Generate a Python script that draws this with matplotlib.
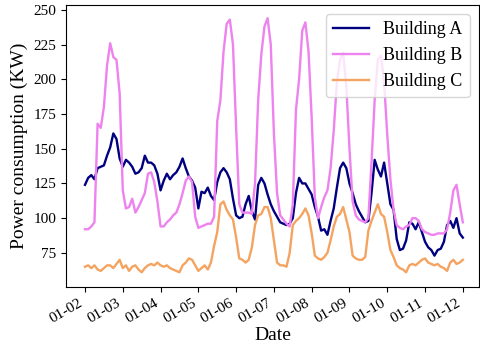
import matplotlib
matplotlib.use("Agg")
import matplotlib.pyplot as plt
import matplotlib.dates as mdates
import numpy as np
import pandas as pd

# 2-hourly readings, 01-02 00:00 .. 01-12 00:00
building_a = [
    124, 129, 131, 128, 136, 137, 138, 145, 151, 161, 157, 143,
    137, 142, 140, 137, 132, 133, 136, 145, 140, 140, 138, 132,
    120, 127, 132, 128, 131, 133, 137, 143, 136, 130, 127, 122,
    107, 119, 118, 122, 116, 113, 126, 133, 136, 133, 128, 114,
    102, 100, 101, 110, 116, 105, 99, 124, 129, 125, 117, 110,
    105, 101, 97, 96, 95, 96, 100, 118, 129, 125, 125, 121,
    117, 108, 101, 91, 92, 88, 98, 107, 122, 136, 140, 136,
    125, 118, 110, 105, 101, 97, 98, 118, 142, 135, 130, 140,
    125, 110, 106, 85, 77, 78, 84, 97, 96, 92, 97, 90,
    83, 79, 77, 73, 77, 78, 83, 95, 98, 93, 100, 89,
    86,
]
building_b = [
    92, 92, 94, 97, 168, 165, 180, 210, 226, 216, 214, 190,
    120, 107, 108, 114, 104, 108, 113, 118, 132, 133, 126, 112,
    94, 94, 97, 99, 102, 104, 110, 118, 127, 130, 126, 101,
    93, 94, 95, 96, 96, 101, 170, 185, 220, 240, 243, 225,
    165, 110, 104, 104, 104, 103, 125, 185, 218, 238, 244, 225,
    161, 118, 102, 99, 96, 94, 110, 178, 200, 235, 241, 220,
    172, 115, 100, 108, 115, 120, 136, 163, 198, 214, 219, 195,
    150, 112, 102, 99, 98, 97, 100, 140, 185, 214, 217, 198,
    160, 128, 106, 95, 93, 92, 94, 95, 100, 100, 98, 92,
    90, 89, 88, 88, 89, 89, 89, 92, 104, 120, 124, 110,
    97,
]
building_c = [
    65, 66, 64, 66, 63, 62, 64, 66, 66, 64, 67, 70,
    64, 66, 62, 65, 66, 63, 61, 64, 66, 67, 66, 68,
    66, 65, 66, 64, 63, 62, 61, 66, 68, 71, 70, 66,
    62, 64, 66, 63, 68, 80, 90, 110, 112, 106, 102, 99,
    86, 71, 70, 68, 70, 79, 95, 102, 103, 108, 108, 100,
    84, 68, 66, 66, 65, 75, 95, 98, 100, 103, 107, 102,
    89, 73, 71, 70, 72, 75, 84, 94, 101, 103, 108, 99,
    90, 73, 71, 70, 70, 72, 91, 98, 104, 110, 103, 101,
    90, 77, 72, 66, 64, 63, 61, 66, 67, 66, 68, 70,
    71, 68, 67, 66, 67, 65, 64, 62, 68, 70, 67, 68,
    70,
]

dates = pd.date_range("2023-01-02", periods=len(building_a), freq="2h")

plt.rcParams["font.family"] = ["Liberation Serif", "DejaVu Serif"]

fig = plt.figure(figsize=(4.8, 3.5), dpi=100)
ax = fig.add_axes([0.1375, 0.18, 0.86, 0.806])

ax.plot(dates, building_a, color="navy", lw=1.7, label="Building A")
ax.plot(dates, building_b, color="violet", lw=1.7, label="Building B")
ax.plot(dates, building_c, color="sandybrown", lw=1.7, label="Building C")

start = pd.Timestamp("2023-01-02")
ax.set_xlim(start - pd.Timedelta(days=0.503), start + pd.Timedelta(days=10.423))
ax.set_ylim(50.4, 253.6)
ax.set_yticks([75, 100, 125, 150, 175, 200, 225, 250])

ax.xaxis.set_major_locator(mdates.DayLocator())
ax.xaxis.set_major_formatter(mdates.DateFormatter("%m-%d"))
for lab in ax.get_xticklabels():
    lab.set_rotation(30)
    lab.set_ha("right")
ax.tick_params(labelsize=11)

ax.set_xlabel("Date", fontsize=14, labelpad=1)
ax.set_ylabel("Power consumption (KW)", fontsize=14)
ax.legend(loc="upper right", fontsize=13)

fig.savefig("out.png", dpi=100)
